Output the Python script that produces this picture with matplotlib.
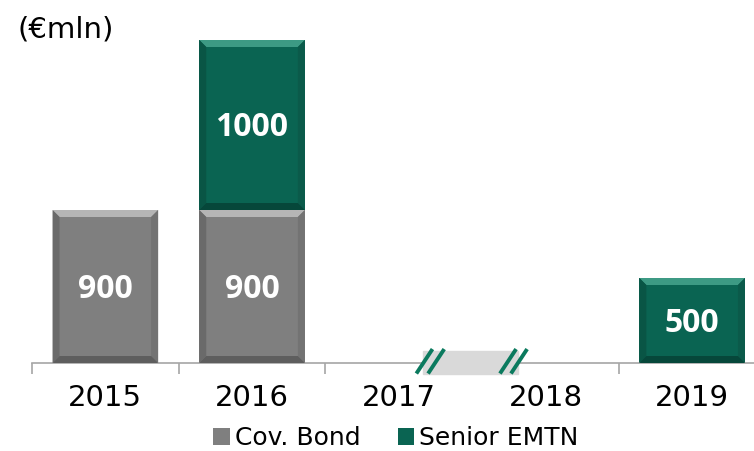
import numpy as np
import matplotlib
matplotlib.use("Agg")
import matplotlib.pyplot as plt
from matplotlib.patches import Polygon, Rectangle
from matplotlib.transforms import IdentityTransform

years = ["2015", "2016", "2017", "2018", "2019"]
cov_bond = [900, 900, 0, 0, 0]
senior_emtn = [0, 1000, 0, 0, 500]

GREY = "#7f7f7f"
GREEN = "#0a6452"

fig = plt.figure(figsize=(7.54, 4.51), dpi=100)
W, H = 754.0, 451.0
ax = fig.add_axes([32 / W, 88 / H, 733.5 / W, 363 / H])

x = np.arange(len(years))
b1 = ax.bar(x, cov_bond, width=0.72, color=GREY, label="Cov. Bond", zorder=2)
b2 = ax.bar(x, senior_emtn, width=0.72, bottom=cov_bond, color=GREEN,
            label="Senior EMTN", zorder=2)

ax.set_xlim(-0.5, len(years) - 0.5)
ax.set_ylim(0, 363 / (323 / 1900))

for s in ["top", "left", "right"]:
    ax.spines[s].set_visible(False)
ax.spines["bottom"].set_color("#a6a6a6")
ax.spines["bottom"].set_linewidth(1.2)
ax.set_yticks([])
ax.set_xticks(x)
ax.set_xticklabels(years, fontsize=21, family="DejaVu Sans")
ax.tick_params(axis="x", which="major", length=0, pad=15)
ax.set_xticks(np.arange(-0.5, len(years)), minor=True)
ax.tick_params(axis="x", which="minor", length=8, width=1.2, color="#a6a6a6")

# value labels
for bars, vals in [(b1, cov_bond), (b2, senior_emtn)]:
    for p, v in zip(bars, vals):
        if v > 0:
            ax.text(p.get_x() + p.get_width() / 2, p.get_y() + p.get_height() / 2 - 15,
                    str(v), ha="center", va="center", color="white",
                    fontsize=23, fontweight="bold", family="Open Sans", zorder=4)

# gap marker between 2017 and 2018
ax.add_patch(Rectangle((2.165, -65), 0.645, 135, color="#d9d9d9",
                       clip_on=False, zorder=3))
for x0 in [2.12, 2.2, 2.69, 2.765]:
    ax.plot([x0, x0 + 0.11], [-62, 82], color="#0b7a5e", lw=2.8,
            clip_on=False, zorder=4, solid_capstyle="butt")

ax.text(-0.6, 1960, "(€mln)", fontsize=21, family="DejaVu Sans",
        ha="left", va="center")

leg = ax.legend(loc="center", bbox_to_anchor=(396 / W, 13 / H),
                bbox_transform=fig.transFigure, ncol=2, frameon=False,
                fontsize=18, handlelength=0.65, handleheight=0.65,
                handletextpad=0.2, columnspacing=1.5)

# bevel on bars
fig.canvas.draw()
bev = 7
shades = {GREY: ("#b5b5b5", "#6a6a6a", "#737373", "#5e5e5e"),
          GREEN: ("#3d9a84", "#095545", "#0b5a4a", "#06473a")}
for bars, col in [(b1, GREY), (b2, GREEN)]:
    for p in bars:
        if p.get_height() <= 0:
            continue
        bb = p.get_window_extent()
        x0, y0, x1, y1 = bb.x0, bb.y0, bb.x1, bb.y1
        top, left, right, bot = shades[col]
        polys = [
            ([(x0, y1), (x1, y1), (x1 - bev, y1 - bev), (x0 + bev, y1 - bev)], top),
            ([(x0, y0), (x0, y1), (x0 + bev, y1 - bev), (x0 + bev, y0 + bev)], left),
            ([(x1, y0), (x1, y1), (x1 - bev, y1 - bev), (x1 - bev, y0 + bev)], right),
            ([(x0, y0), (x1, y0), (x1 - bev, y0 + bev), (x0 + bev, y0 + bev)], bot),
        ]
        for pts, c in polys:
            fig.add_artist(Polygon(pts, closed=True, color=c, lw=0,
                                   transform=IdentityTransform(), zorder=3))

fig.savefig("out.png", dpi=100)
